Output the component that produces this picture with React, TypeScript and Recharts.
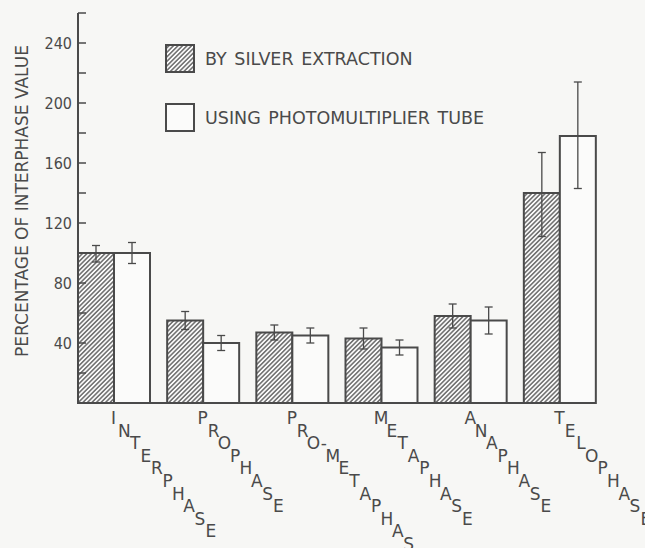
import { BarChart, Bar, XAxis, YAxis, ErrorBar } from "recharts";

const phases = ["INTERPHASE", "PROPHASE", "PRO-METAPHASE", "METAPHASE", "ANAPHASE", "TELOPHASE"];
const silver = [100, 55, 47, 43, 58, 140];
const silverErr = [[6, 5], [6, 6], [5, 5], [7, 7], [8, 8], [29, 27]];
const tube = [100, 40, 45, 37, 55, 178];
const tubeErr = [[7, 7], [5, 5], [5, 5], [5, 5], [9, 9], [35, 36]];
const yTicks = [20, 40, 60, 80, 100, 120, 140, 160, 180, 200, 220, 240, 260];
const yLabels = [40, 80, 120, 160, 200, 240];
const seriesNames = ["BY SILVER EXTRACTION", "USING PHOTOMULTIPLIER TUBE"];

const data = phases.map((phase, i) => ({
  phase,
  silver: silver[i],
  silverErr: silverErr[i],
  tube: tube[i],
  tubeErr: tubeErr[i],
}));

const ink = "#4a4a4a";
const font = "'DejaVu Sans', sans-serif";

// letters step down diagonally, the hyphen stays on the line of the letter before it
function PhaseTick(props: any) {
  const { x, y, payload } = props;
  const chars: string[] = String(payload.value).split("");
  let col = 0;
  let row = 0;
  return (
    <g>
      {chars.map((c, i) => {
        if (i > 0) {
          if (c === "-") {
            col += 0.95;
          } else if (chars[i - 1] === "-") {
            col += 0.85;
            row += 1;
          } else {
            col += 1;
            row += 1;
          }
        }
        return (
          <text
            key={i}
            x={x + col * 10.8}
            y={y + 21 + row * 12.6}
            textAnchor="middle"
            fontSize={17}
            fontFamily={font}
            fill={ink}
          >
            {c}
          </text>
        );
      })}
    </g>
  );
}

function ValueTick(props: any) {
  const { x, y, payload } = props;
  return (
    <g>
      <line x1={x} y1={y} x2={x + 8} y2={y} stroke={ink} strokeWidth={1.5} />
      {yLabels.includes(payload.value) && (
        <text
          x={x - 6}
          y={y}
          textAnchor="end"
          dominantBaseline="central"
          fontSize={16}
          fontFamily="'DejaVu Sans Condensed', sans-serif"
          fill={ink}
        >
          {payload.value}
        </text>
      )}
    </g>
  );
}

function YLabel(props: any) {
  const { viewBox } = props;
  const cx = viewBox.x + 22;
  const cy = viewBox.y + viewBox.height / 2 - 7;
  return (
    <text
      x={cx}
      y={cy}
      transform={`rotate(-90, ${cx}, ${cy})`}
      textAnchor="middle"
      dominantBaseline="central"
      fontSize={17}
      fontFamily={font}
      fill={ink}
    >
      PERCENTAGE OF INTERPHASE VALUE
    </text>
  );
}

export default function App() {
  return (
    <div style={{ position: "absolute", left: 0, top: 0, width: 645, height: 548, background: "#f7f7f5" }}>
      <BarChart
        width={645}
        height={548}
        data={data}
        margin={{ top: 13, right: 50, bottom: 0, left: 0 }}
        barCategoryGap={9}
        barGap={0}
      >
        <defs>
          <pattern id="hatch" patternUnits="userSpaceOnUse" width={3.2} height={3.2} patternTransform="rotate(45)">
            <rect width={3.2} height={3.2} fill="#fafafa" />
            <line x1={0.8} y1={0} x2={0.8} y2={3.2} stroke="#555" strokeWidth={1.3} />
          </pattern>
        </defs>
        <XAxis
          dataKey="phase"
          height={145}
          padding={{ left: -9, right: -9 }}
          interval={0}
          tick={<PhaseTick />}
          tickLine={false}
          tickSize={0}
          tickMargin={0}
          axisLine={{ stroke: ink, strokeWidth: 2 }}
        />
        <YAxis
          width={78}
          domain={[0, 260]}
          ticks={yTicks}
          interval={0}
          tick={<ValueTick />}
          tickLine={false}
          tickSize={0}
          tickMargin={0}
          axisLine={{ stroke: ink, strokeWidth: 2 }}
          label={<YLabel />}
        />
        <Bar dataKey="silver" fill="url(#hatch)" stroke={ink} strokeWidth={2} isAnimationActive={false}>
          <ErrorBar dataKey="silverErr" width={4} stroke={ink} strokeWidth={1.3} />
        </Bar>
        <Bar dataKey="tube" fill="#fbfbfa" stroke={ink} strokeWidth={2} isAnimationActive={false}>
          <ErrorBar dataKey="tubeErr" width={4} stroke={ink} strokeWidth={1.3} />
        </Bar>
      </BarChart>
      <div style={{ position: "absolute", left: 165, top: 44, fontFamily: font, fontSize: 17.5, color: ink }}>
        {seriesNames.map((name, i) => (
          <div key={name} style={{ display: "flex", alignItems: "center", height: 29, marginBottom: 30 }}>
            <svg width={30} height={29} style={{ marginRight: 10 }}>
              <rect
                x={1}
                y={1}
                width={28}
                height={27}
                fill={i === 0 ? "url(#hatch)" : "#fbfbfa"}
                stroke={ink}
                strokeWidth={2}
              />
            </svg>
            <span style={{ wordSpacing: 2, whiteSpace: "pre" }}>{name}</span>
          </div>
        ))}
      </div>
    </div>
  );
}
